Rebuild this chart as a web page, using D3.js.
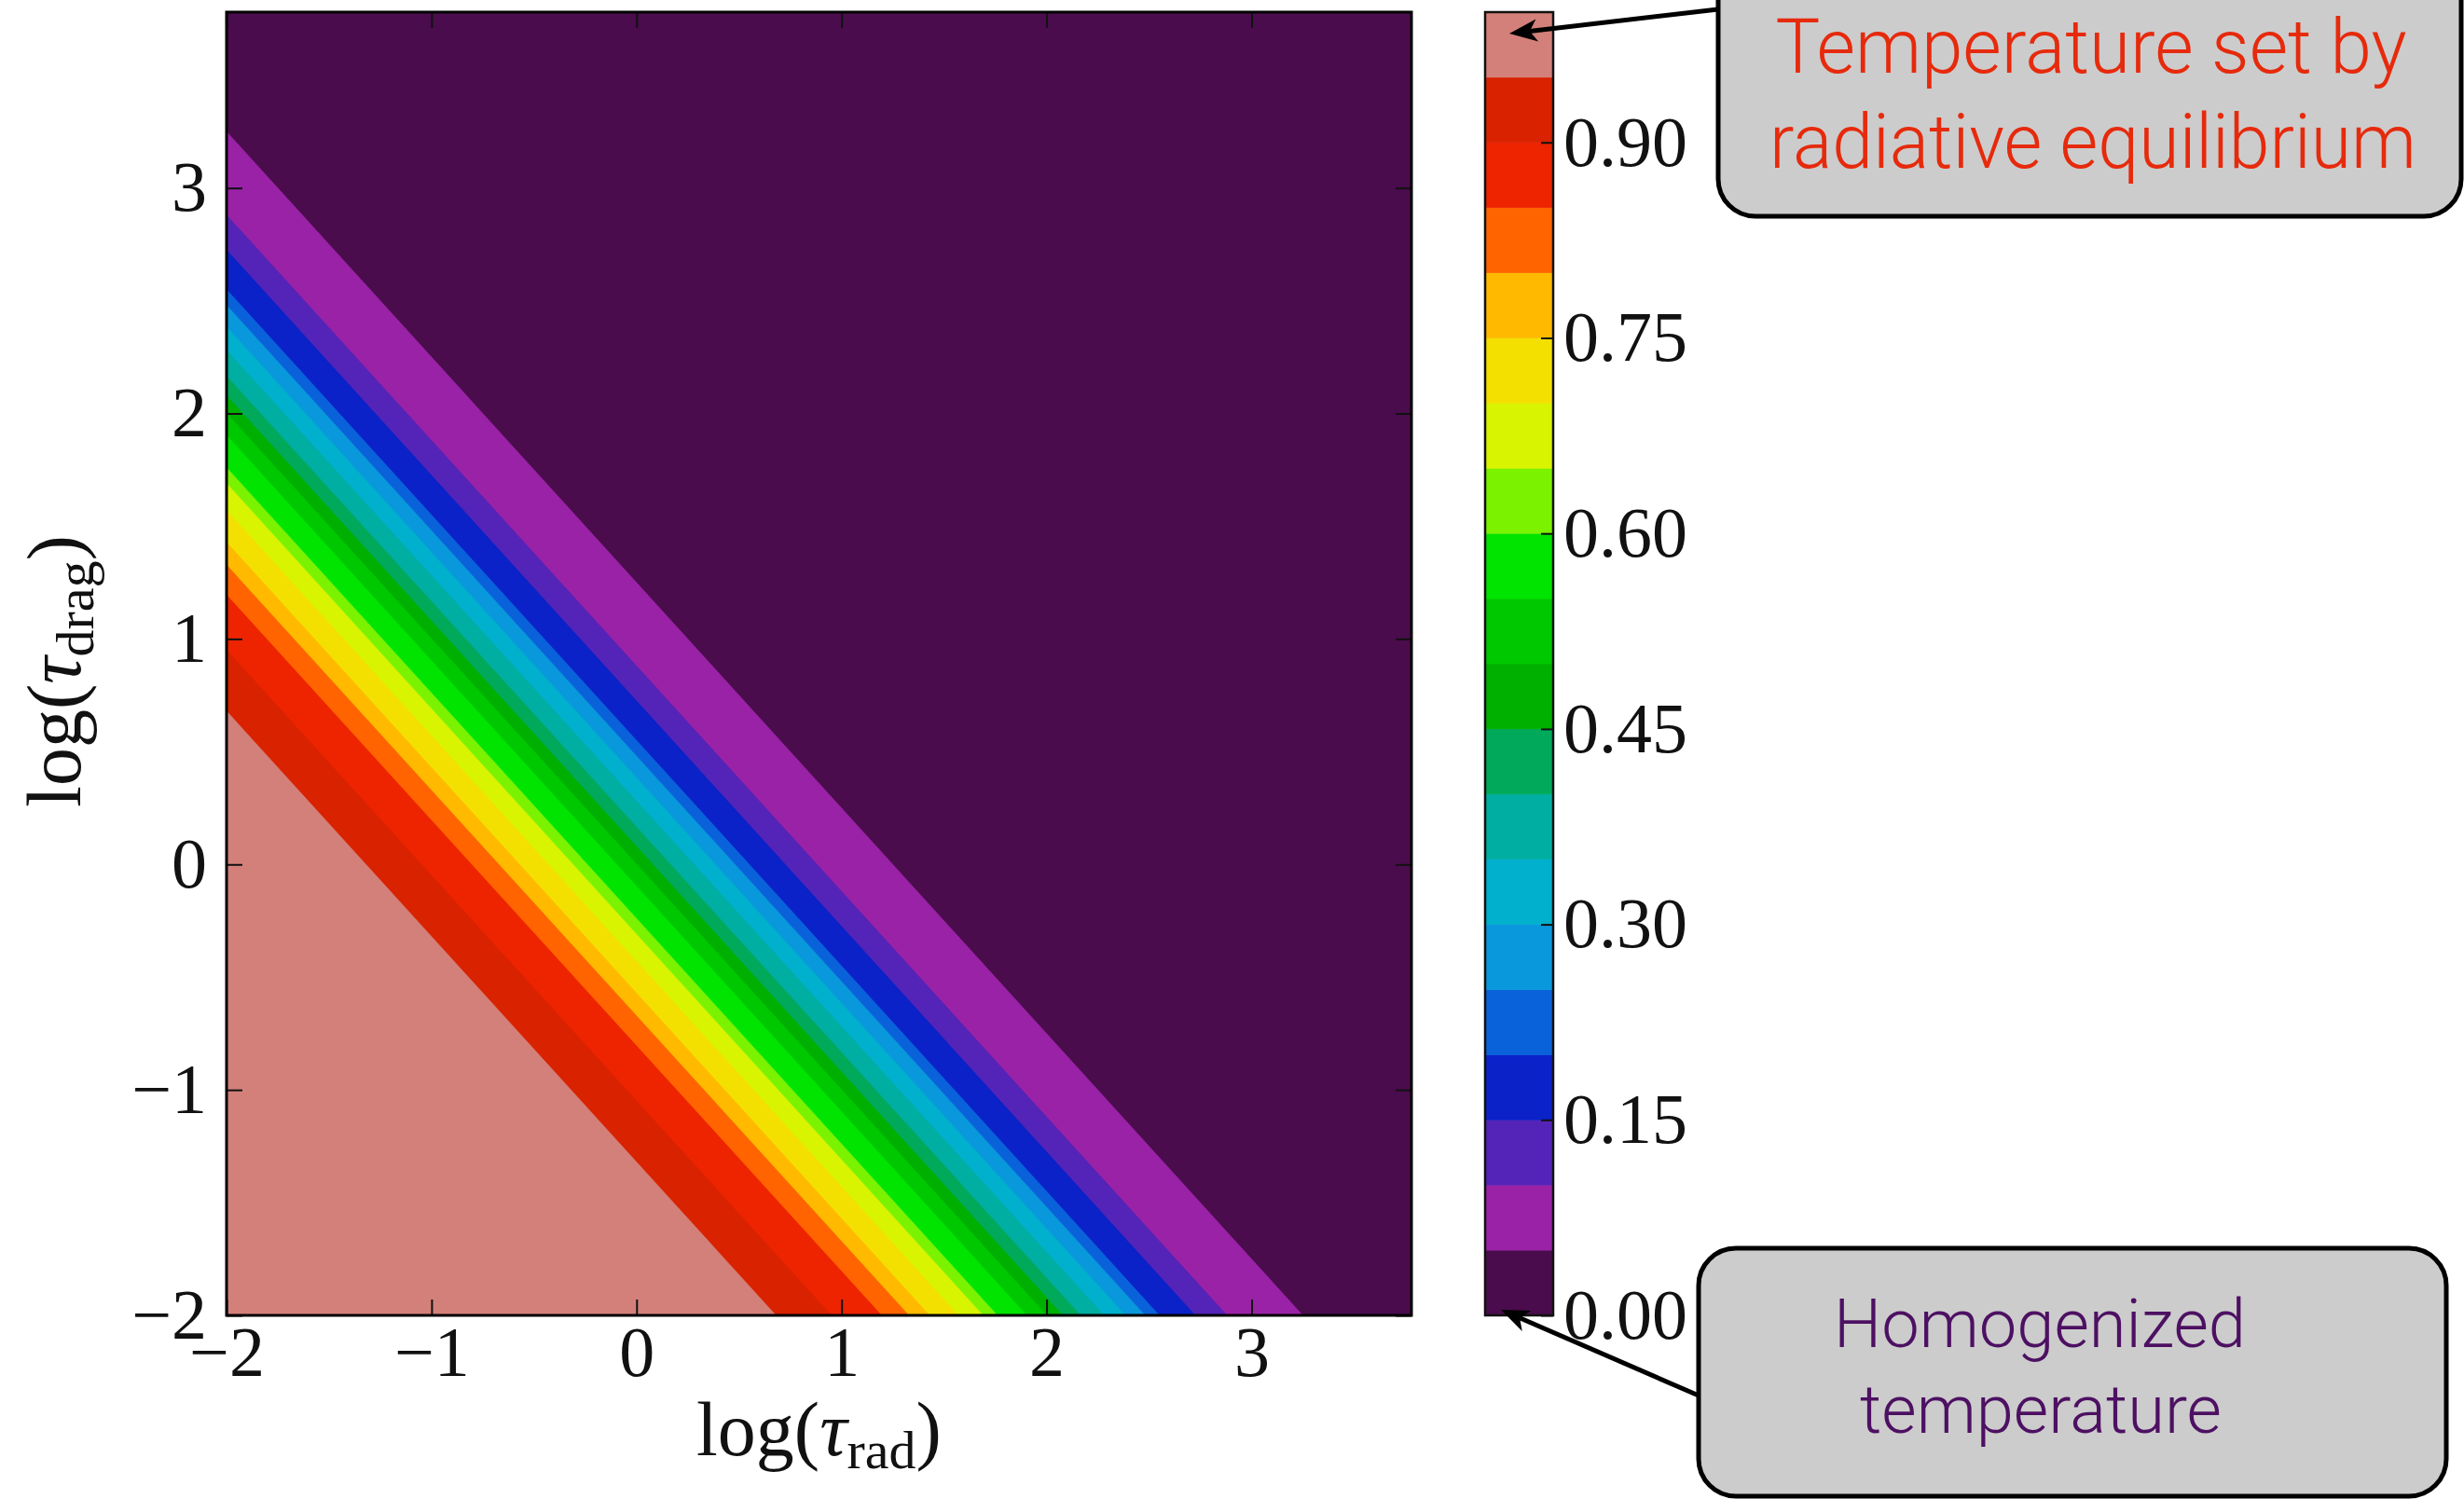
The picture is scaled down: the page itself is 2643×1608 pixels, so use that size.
<!DOCTYPE html>
<html>
<head>
<meta charset="utf-8">
<script src="https://cdn.jsdelivr.net/npm/d3@7"></script>
<style>
  html, body { margin: 0; padding: 0; background: #ffffff; }
  svg { display: block; }
</style>
</head>
<body>
<script>
// Contour levels of the normalised day-night temperature field
const levels = [0.00, 0.05, 0.10, 0.15, 0.20, 0.25, 0.30, 0.35, 0.40, 0.45,
                0.50, 0.55, 0.60, 0.65, 0.70, 0.75, 0.80, 0.85, 0.90, 0.95, 1.00];

// Fill colour of each band between consecutive levels (lowest band first)
const bandColors = ["#4a0c4c", "#9a22a6", "#5424b8", "#0a22c8", "#0a62da",
                    "#0a98dc", "#00b0cc", "#00aea2", "#00aa5a", "#00b000",
                    "#00c800", "#00e400", "#7af200", "#d8f400", "#f4e000",
                    "#ffba00", "#ff6400", "#ee2400", "#d82200", "#d4807a"];

// Where each interior level (0.05 ... 0.95) is crossed, as log(tau_rad) + log(tau_drag)
const levelCrossing = [1.25, 0.88, 0.725, 0.55, 0.48, 0.384, 0.28, 0.165, 0.079, 0.001,
                       -0.097, -0.24, -0.31, -0.43, -0.571, -0.672, -0.805, -1.05, -1.32];

const xTicks = [-2, -1, 0, 1, 2, 3];
const yTicks = [-2, -1, 0, 1, 2, 3];
const cbarTicks = [0.00, 0.15, 0.30, 0.45, 0.60, 0.75, 0.90];
const logRange = [-2, 3.78];

const W = 2643, H = 1608;
const plot = { left: 243, right: 1514, top: 13, bottom: 1411 };
const cbar = { left: 1593, right: 1666 };

const serif = "'Liberation Serif', 'DejaVu Serif', serif";
const sans = "Roboto, 'Open Sans', Lato, 'Liberation Sans', sans-serif";

const svg = d3.select("body").append("svg")
  .attr("width", W).attr("height", H)
  .attr("viewBox", `0 0 ${W} ${H}`);

svg.append("rect").attr("width", W).attr("height", H).attr("fill", "#ffffff");

const x = d3.scaleLinear().domain(logRange).range([plot.left, plot.right]);
const y = d3.scaleLinear().domain(logRange).range([plot.bottom, plot.top]);

// ---- filled contour bands -------------------------------------------------
svg.append("defs").append("clipPath").attr("id", "plot-clip")
  .append("rect")
  .attr("x", plot.left).attr("y", plot.top)
  .attr("width", plot.right - plot.left).attr("height", plot.bottom - plot.top);

// Part of the plotting domain where log(tau_rad) + log(tau_drag) <= s
function regionBelow(s) {
  const [a, b] = logRange;
  const corners = [[a, a], [b, a], [b, b], [a, b]];
  const out = [];
  for (let i = 0; i < corners.length; i++) {
    const p = corners[i], q = corners[(i + 1) % corners.length];
    const fp = p[0] + p[1] - s, fq = q[0] + q[1] - s;
    if (fp <= 0) out.push(p);
    if ((fp < 0 && fq > 0) || (fp > 0 && fq < 0)) {
      const t = fp / (fp - fq);
      out.push([p[0] + t * (q[0] - p[0]), p[1] + t * (q[1] - p[1])]);
    }
  }
  return out;
}

const polyLine = d3.line().x(d => x(d[0])).y(d => y(d[1]));
const bands = svg.append("g").attr("clip-path", "url(#plot-clip)");

// lowest band covers the whole domain, each higher band is painted on top
const bandShapes = [{ pts: regionBelow(logRange[1] * 2 + 1), color: bandColors[0] }]
  .concat(levelCrossing.map((s, i) => ({ pts: regionBelow(s), color: bandColors[i + 1] })));

bands.selectAll("path.band")
  .data(bandShapes.filter(d => d.pts.length > 2))
  .join("path")
  .attr("class", "band")
  .attr("d", d => polyLine(d.pts) + "Z")
  .attr("fill", d => d.color)
  .attr("stroke", d => d.color)
  .attr("stroke-width", 0.6);

// ---- axes -----------------------------------------------------------------
const fmt = d => d < 0 ? "\u2212" + Math.abs(d) : String(d);
const tickLen = 17;

function styleAxis(g) {
  g.select(".domain").remove();
  g.selectAll(".tick line").attr("stroke", "#111").attr("stroke-width", 2);
  g.selectAll(".tick text")
    .attr("fill", "#111")
    .style("font-family", serif)
    .style("font-size", "76px");
}

svg.append("g")
  .attr("transform", `translate(0,${plot.bottom})`)
  .call(d3.axisBottom(x).tickValues(xTicks).tickFormat(fmt).tickSize(-tickLen).tickPadding(11))
  .call(styleAxis);

svg.append("g")
  .attr("transform", `translate(0,${plot.top})`)
  .call(d3.axisTop(x).tickValues(xTicks).tickFormat("").tickSize(-tickLen))
  .call(styleAxis);

svg.append("g")
  .attr("transform", `translate(${plot.left},0)`)
  .call(d3.axisLeft(y).tickValues(yTicks).tickFormat(fmt).tickSize(-tickLen).tickPadding(21))
  .call(styleAxis);

svg.append("g")
  .attr("transform", `translate(${plot.right},0)`)
  .call(d3.axisRight(y).tickValues(yTicks).tickFormat("").tickSize(-tickLen))
  .call(styleAxis);

svg.append("rect")
  .attr("x", plot.left).attr("y", plot.top)
  .attr("width", plot.right - plot.left).attr("height", plot.bottom - plot.top)
  .attr("fill", "none").attr("stroke", "#000").attr("stroke-width", 3);

// axis titles
const xTitle = svg.append("text")
  .attr("x", (plot.left + plot.right) / 2).attr("y", 1561)
  .attr("text-anchor", "middle")
  .attr("fill", "#111")
  .style("font-family", serif).style("font-size", "82px");
xTitle.append("tspan").text("log(");
xTitle.append("tspan").attr("font-style", "italic").text("\u03c4");
xTitle.append("tspan").attr("font-size", "58px").attr("dy", 14).text("rad");
xTitle.append("tspan").attr("dy", -14).text(")");

const yTitle = svg.append("text")
  .attr("transform", `translate(86,${(plot.top + plot.bottom) / 2 + 8}) rotate(-90)`)
  .attr("text-anchor", "middle")
  .attr("fill", "#111")
  .style("font-family", serif).style("font-size", "82px");
yTitle.append("tspan").text("log(");
yTitle.append("tspan").attr("font-style", "italic").text("\u03c4");
yTitle.append("tspan").attr("font-size", "58px").attr("dy", 14).text("drag");
yTitle.append("tspan").attr("dy", -14).text(")");

// ---- colour bar -----------------------------------------------------------
const c = d3.scaleLinear().domain([0, 1]).range([plot.bottom, plot.top]);

svg.append("g").selectAll("rect")
  .data(d3.range(bandColors.length))
  .join("rect")
  .attr("x", cbar.left)
  .attr("width", cbar.right - cbar.left)
  .attr("y", i => c(levels[i + 1]))
  .attr("height", i => c(levels[i]) - c(levels[i + 1]))
  .attr("fill", i => bandColors[i])
  .attr("stroke", i => bandColors[i])
  .attr("stroke-width", 0.6);

svg.append("g")
  .attr("transform", `translate(${cbar.right},0)`)
  .call(d3.axisRight(c).tickValues(cbarTicks).tickFormat(d3.format(".2f")).tickSize(-13).tickPadding(11))
  .call(styleAxis);

svg.append("rect")
  .attr("x", cbar.left).attr("y", plot.top)
  .attr("width", cbar.right - cbar.left).attr("height", plot.bottom - plot.top)
  .attr("fill", "none").attr("stroke", "#111").attr("stroke-width", 2.5);

// ---- call-out boxes -------------------------------------------------------
function arrow(from, tip) {
  const dx = tip[0] - from[0], dy = tip[1] - from[1];
  const len = Math.hypot(dx, dy);
  const ux = dx / len, uy = dy / len, nx = -uy, ny = ux;
  const headLen = 30, halfW = 12, notch = 22;
  const base = [tip[0] - headLen * ux, tip[1] - headLen * uy];
  const neck = [tip[0] - notch * ux, tip[1] - notch * uy];
  svg.append("line")
    .attr("x1", from[0]).attr("y1", from[1])
    .attr("x2", neck[0]).attr("y2", neck[1])
    .attr("stroke", "#000").attr("stroke-width", 5);
  svg.append("path")
    .attr("d", `M${tip[0]},${tip[1]} L${base[0] + halfW * nx},${base[1] + halfW * ny} ` +
               `L${neck[0]},${neck[1]} L${base[0] - halfW * nx},${base[1] - halfW * ny} Z`)
    .attr("fill", "#000");
}

function callout(box, lines, color) {
  svg.append("rect")
    .attr("x", box.x).attr("y", box.y)
    .attr("width", box.w).attr("height", box.h)
    .attr("rx", 40).attr("ry", 40)
    .attr("fill", "#cccccc").attr("stroke", "#000").attr("stroke-width", 5);
  lines.forEach(l => {
    svg.append("text")
      .attr("x", l.cx).attr("y", l.y)
      .attr("text-anchor", "middle")
      .attr("textLength", l.width).attr("lengthAdjust", "spacingAndGlyphs")
      .attr("fill", color)
      .style("font-family", sans).style("font-weight", 300)
      .style("font-size", l.size + "px")
      .text(l.text);
  });
}

callout({ x: 1843, y: -60, w: 797, h: 292 }, [
  { text: "Temperature set by", cx: 2243, y: 78, width: 677, size: 81 },
  { text: "radiative equilibrium", cx: 2245, y: 180, width: 694, size: 81 }
], "#e62a0c");
arrow([1843, 10], [1619, 36]);

callout({ x: 1822, y: 1339, w: 802, h: 266 }, [
  { text: "Homogenized", cx: 2188, y: 1445, width: 442, size: 73 },
  { text: "temperature", cx: 2189, y: 1537, width: 388, size: 73 }
], "#4d1062");
arrow([1822, 1497], [1610, 1405]);
</script>
</body>
</html>
